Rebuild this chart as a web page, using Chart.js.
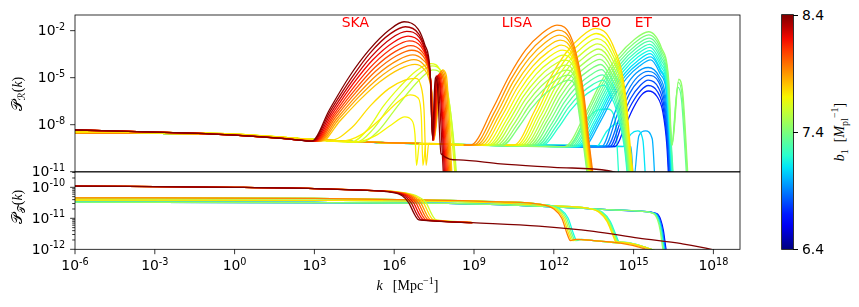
<!DOCTYPE html>
<html>
<head>
<meta charset="utf-8">
<script src="https://cdn.jsdelivr.net/npm/chart.js@4.4.1/dist/chart.umd.min.js"></script>
<style>
  body { margin: 0; background: #fff; }
  #wrap { position: relative; width: 859px; height: 307px; overflow: hidden; background: #fff; }
  #wrap canvas { position: absolute; left: 0; }
  #cTop { top: 0; }
  #cBot { top: 160px; }
  #cbar { position: absolute; left: 781.7px; top: 15px; width: 11.6px; height: 234.3px; box-shadow: 0 0 0 0.8px #000; }
  .cbt { position: absolute; left: 793.3px; width: 4.9px; height: 0.8px; background: #000; }
  .cbl { position: absolute; left: 802px; font: 13.9px "DejaVu Sans"; line-height: 16px; transform: translateY(-50%); }
  #cblab { position: absolute; left: 840px; top: 132px; transform: translate(-50%, -50%) rotate(-90deg);
           font: 14px "Liberation Serif"; white-space: nowrap; }
  #cblab sub, #cblab sup { font-size: 10px; line-height: 0; }
</style>
</head>
<body>
<div id="wrap">
  <canvas id="cTop" width="760" height="190"></canvas>
  <canvas id="cBot" width="760" height="147"></canvas>
  <div id="cbar"></div>
  <div id="cblab"><i>b</i><sub>1</sub>&nbsp;&nbsp;[<i>M</i><sub>pl</sub><sup>&minus;1</sup>]</div>
</div>
<script>
// axes (log10 exponents)
const kTicks = [-6, -3, 0, 3, 6, 9, 12, 15, 18];
const pTopTicks = [-11, -8, -5, -2];
const pBotTicks = [-12, -11, -10];
const cbTicks = [6.4, 7.4, 8.4];
const gwNames = ['SKA', 'LISA', 'BBO', 'ET'];
const gwK = [1.07e4, 1.1e10, 1.1e13, 1.1e15];
const gwP = 1.7e-2;

// large-scale plateau shared by the curves, [log10 k, log10 P]
const baseRed = [[-6, -8.34], [-2, -8.52], [0, -8.66], [2, -8.9]];
const baseWarm = [[-6, -8.45], [0, -8.6], [2, -8.82]];
const baseCool = [[-6, -8.52], [0, -8.64], [2, -8.85], [4, -9.05], [8, -9.25]];

// scalar spectrum, SKA peaks
const skaB1 = [8.4, 8.33, 8.27, 8.2, 8.13, 8.07, 8.0, 7.93, 7.87, 7.8];
const skaCurves = [
  [[2.9,-9.05],[3.56,-7.06],[4.31,-4.94],[5.06,-3.23],[5.81,-1.96],[6.37,-1.43],[6.9,-1.9],[7.15,-2.9],[7.35,-4.6],[7.44,-8.8],[7.54,-5.0],[7.62,-5.4],[7.76,-9.85],[8.43,-10.25],[10,-10.5],[12,-10.72],[14.06,-10.94],[14.8,-11.3]],
  [[2.93,-9.05],[3.59,-7.15],[4.36,-5.11],[5.09,-3.43],[5.86,-2.19],[6.42,-1.75],[6.92,-2.2],[7.17,-3.2],[7.35,-4.8],[7.45,-9.0],[7.57,-4.9],[7.66,-5.4],[7.86,-11.5]],
  [[2.96,-9.05],[3.63,-7.23],[4.4,-5.27],[5.14,-3.66],[5.91,-2.47],[6.47,-2.05],[6.95,-2.45],[7.18,-3.4],[7.36,-5.0],[7.45,-9.0],[7.6,-4.9],[7.7,-5.3],[7.9,-11.5]],
  [[3.0,-9.05],[3.67,-7.31],[4.44,-5.43],[5.18,-3.89],[5.96,-2.75],[6.52,-2.35],[6.98,-2.75],[7.2,-3.6],[7.37,-5.2],[7.46,-9.0],[7.63,-4.85],[7.73,-5.3],[7.94,-11.5]],
  [[3.04,-9.05],[3.71,-7.39],[4.49,-5.59],[5.23,-4.12],[6.01,-3.03],[6.57,-2.65],[7.0,-3.0],[7.22,-3.8],[7.38,-5.4],[7.46,-9.0],[7.66,-4.8],[7.76,-5.2],[7.98,-11.5]],
  [[3.08,-9.05],[3.75,-7.46],[4.53,-5.76],[5.27,-4.35],[6.05,-3.32],[6.62,-2.95],[7.02,-3.3],[7.24,-4.0],[7.39,-5.6],[7.47,-9.0],[7.69,-4.75],[7.8,-5.2],[8.02,-11.5]],
  [[3.12,-9.05],[3.79,-7.54],[4.57,-5.92],[5.31,-4.58],[6.09,-3.6],[6.66,-3.25],[7.05,-3.55],[7.25,-4.2],[7.4,-5.8],[7.47,-9.0],[7.72,-4.7],[7.84,-5.1],[8.06,-11.5]],
  [[3.17,-9.05],[3.84,-7.62],[4.62,-6.08],[5.36,-4.81],[6.14,-3.88],[6.7,-3.55],[7.07,-3.85],[7.27,-4.4],[7.41,-6.0],[7.48,-9.0],[7.75,-4.6],[7.88,-5.0],[8.1,-11.5]],
  [[3.22,-9.05],[3.89,-7.7],[4.66,-6.24],[5.4,-5.05],[6.18,-4.16],[6.74,-3.85],[7.1,-4.15],[7.28,-4.7],[7.42,-6.2],[7.48,-9.0],[7.78,-4.55],[7.92,-4.9],[8.14,-11.5]],
  [[3.28,-9.05],[3.95,-7.78],[4.72,-6.4],[5.45,-5.28],[6.22,-4.44],[6.78,-4.15],[7.12,-4.45],[7.29,-5.0],[7.43,-6.4],[7.49,-9.0],[7.81,-4.5],[7.96,-4.85],[8.18,-11.5]]
];
const skaYB1 = [7.75, 7.72, 7.7];
const skaYCurves = [
  [[3.6,-9.0],[4.4,-8.2],[5.1,-6.8],[5.8,-5.7],[6.4,-5.15],[6.8,-5.05],[7.0,-5.5],[7.12,-7.0],[7.2,-10.6],[7.3,-9.2],[8.6,-9.3]],
  [[4.0,-9.05],[4.8,-8.6],[5.5,-7.6],[6.1,-6.6],[6.6,-6.1],[6.9,-6.3],[7.02,-7.5],[7.08,-10.6],[7.2,-9.2],[8.6,-9.3]],
  [[4.6,-9.1],[5.3,-8.7],[5.9,-8.0],[6.4,-7.5],[6.65,-7.7],[6.78,-8.6],[6.84,-10.6],[6.95,-9.2],[8.6,-9.3]]
];
const skaGB1 = [7.65, 7.6, 7.55];
const skaGCurves = [
  [[4.4,-9.1],[5.0,-8.3],[5.6,-6.8],[6.2,-5.6],[6.8,-4.6],[7.37,-4.1],[7.75,-4.6],[8.0,-6.2],[8.15,-8.5],[8.3,-11.5]],
  [[4.6,-9.1],[5.2,-8.3],[5.8,-6.9],[6.4,-5.7],[6.9,-4.8],[7.42,-4.25],[7.8,-4.7],[8.05,-6.3],[8.2,-8.6],[8.33,-11.5]],
  [[4.8,-9.1],[5.4,-8.4],[6.0,-7.1],[6.55,-5.9],[7.0,-5.05],[7.45,-4.5],[7.82,-4.9],[8.06,-6.5],[8.22,-8.7],[8.36,-11.5]]
];

// scalar spectrum, LISA peaks
const lisaB1 = [7.95, 7.9, 7.85, 7.8, 7.75, 7.7, 7.65, 7.6, 7.55, 7.5, 7.45, 7.4];
const lisaCurves = [
  [[8.87,-9.3],[9.68,-7.06],[10.31,-4.94],[10.94,-3.23],[11.56,-2.17],[12.12,-1.64],[12.69,-2.6],[13.12,-5.98],[13.35,-9.5],[13.5,-11.5]],
  [[8.98,-9.3],[9.78,-7.17],[10.38,-5.12],[11.02,-3.5],[11.62,-2.47],[12.16,-1.96],[12.7,-2.9],[13.1,-6.0],[13.33,-9.5],[13.48,-11.5]],
  [[9.09,-9.3],[9.87,-7.26],[10.46,-5.3],[11.08,-3.75],[11.67,-2.77],[12.2,-2.28],[12.72,-3.2],[13.08,-6.0],[13.31,-9.5],[13.46,-11.5]],
  [[9.2,-9.3],[9.96,-7.36],[10.54,-5.48],[11.15,-4.01],[11.72,-3.07],[12.24,-2.6],[12.74,-3.5],[13.06,-6.0],[13.29,-9.5],[13.44,-11.5]],
  [[9.31,-9.3],[10.05,-7.45],[10.62,-5.66],[11.21,-4.26],[11.78,-3.37],[12.28,-2.92],[12.76,-3.8],[13.04,-6.0],[13.27,-9.5],[13.42,-11.5]],
  [[9.42,-9.3],[10.15,-7.54],[10.7,-5.85],[11.28,-4.51],[11.83,-3.66],[12.32,-3.24],[12.78,-4.1],[13.02,-6.1],[13.25,-9.5],[13.4,-11.5]],
  [[9.53,-9.3],[10.24,-7.64],[10.78,-6.03],[11.34,-4.77],[11.88,-3.96],[12.36,-3.56],[12.8,-4.4],[13.0,-6.2],[13.23,-9.5],[13.38,-11.5]],
  [[9.64,-9.3],[10.33,-7.73],[10.85,-6.21],[11.41,-5.02],[11.93,-4.26],[12.4,-3.88],[12.8,-4.6],[12.98,-6.3],[13.21,-9.5],[13.36,-11.5]],
  [[9.75,-9.3],[10.42,-7.82],[10.93,-6.39],[11.47,-5.27],[11.98,-4.56],[12.44,-4.2],[12.8,-4.9],[12.96,-6.4],[13.19,-9.5],[13.34,-11.5]],
  [[9.86,-9.3],[10.52,-7.91],[11.01,-6.58],[11.54,-5.52],[12.03,-4.85],[12.48,-4.52],[12.8,-5.1],[12.94,-6.5],[13.17,-9.5],[13.32,-11.5]],
  [[9.97,-9.3],[10.61,-8.01],[11.09,-6.76],[11.6,-5.78],[12.09,-5.15],[12.52,-4.84],[12.8,-5.3],[12.92,-6.6],[13.15,-9.5],[13.3,-11.5]],
  [[10.08,-9.3],[10.7,-8.1],[11.17,-6.94],[11.67,-6.03],[12.14,-5.45],[12.56,-5.16],[12.8,-5.5],[12.9,-6.7],[13.13,-9.5],[13.28,-11.5]]
];

// scalar spectrum, BBO peaks
const bboB1 = [7.75, 7.7, 7.65, 7.6, 7.55, 7.5, 7.45, 7.4, 7.35, 7.3, 7.25, 7.2];
const bboCurves = [
  [[10.5,-9.3],[11.27,-7.14],[11.85,-5.06],[12.46,-3.41],[13.04,-2.37],[13.56,-1.85],[14.19,-2.81],[14.69,-6.0],[14.88,-9.5],[15.0,-11.5]],
  [[10.6,-9.3],[11.35,-7.24],[11.92,-5.24],[12.51,-3.68],[13.08,-2.68],[13.59,-2.18],[14.18,-3.1],[14.66,-6.0],[14.86,-9.5],[14.98,-11.5]],
  [[10.7,-9.3],[11.43,-7.33],[11.98,-5.43],[12.57,-3.94],[13.12,-2.99],[13.62,-2.51],[14.17,-3.4],[14.63,-6.0],[14.84,-9.5],[14.96,-11.5]],
  [[10.8,-9.3],[11.51,-7.43],[12.05,-5.62],[12.62,-4.2],[13.17,-3.29],[13.65,-2.84],[14.16,-3.7],[14.6,-6.0],[14.82,-9.5],[14.94,-11.5]],
  [[10.9,-9.3],[11.6,-7.52],[12.12,-5.81],[12.68,-4.46],[13.21,-3.6],[13.68,-3.17],[14.15,-4.0],[14.57,-6.1],[14.8,-9.5],[14.92,-11.5]],
  [[11.0,-9.3],[11.68,-7.62],[12.19,-5.99],[12.73,-4.72],[13.25,-3.91],[13.71,-3.5],[14.14,-4.3],[14.54,-6.2],[14.78,-9.5],[14.9,-11.5]],
  [[11.1,-9.3],[11.76,-7.71],[12.26,-6.18],[12.79,-4.98],[13.29,-4.21],[13.74,-3.83],[14.13,-4.6],[14.51,-6.3],[14.76,-9.5],[14.88,-11.5]],
  [[11.2,-9.3],[11.84,-7.81],[12.33,-6.37],[12.84,-5.24],[13.33,-4.52],[13.77,-4.16],[14.12,-4.9],[14.48,-6.4],[14.74,-9.5],[14.86,-11.5]],
  [[11.3,-9.3],[11.93,-7.91],[12.4,-6.56],[12.9,-5.5],[13.38,-4.83],[13.8,-4.49],[14.11,-5.2],[14.45,-6.6],[14.72,-9.5],[14.84,-11.5]],
  [[11.4,-9.3],[12.01,-8.0],[12.47,-6.75],[12.96,-5.76],[13.42,-5.13],[13.83,-4.82],[14.1,-5.4],[14.42,-6.8],[14.7,-9.5],[14.82,-11.5]],
  [[11.5,-9.3],[12.09,-8.1],[12.54,-6.93],[13.01,-6.02],[13.46,-5.44],[13.86,-5.15],[14.1,-5.7],[14.4,-7.0],[14.68,-9.5],[14.8,-11.5]],
  [[11.6,-9.3],[12.17,-8.19],[12.61,-7.12],[13.07,-6.28],[13.5,-5.75],[13.89,-5.48],[14.1,-6.0],[14.38,-7.2],[14.66,-9.5],[14.78,-11.5]]
];

// scalar spectrum, ET peaks
const etB1 = [7.45, 7.4, 7.35, 7.3, 7.25, 7.2, 7.15, 7.1, 7.05, 7.0];
const etCurves = [
  [[12.4,-9.4],[13.19,-7.27],[13.79,-5.22],[14.42,-3.61],[15.02,-2.58],[15.56,-2.07],[16.05,-3.1],[16.31,-4.94],[16.45,-9.3],[16.7,-5.1],[16.85,-6.0],[17.05,-11.5]],
  [[12.48,-9.4],[13.25,-7.33],[13.84,-5.34],[14.46,-3.77],[15.04,-2.77],[15.57,-2.27],[16.05,-3.3],[16.3,-5.0],[16.44,-9.3],[16.68,-5.3],[16.83,-6.2],[17.03,-11.5]],
  [[12.56,-9.4],[13.32,-7.39],[13.89,-5.45],[14.49,-3.93],[15.07,-2.96],[15.58,-2.47],[16.05,-3.5],[16.29,-5.1],[16.43,-9.3],[16.66,-5.6],[16.8,-6.4],[17.0,-11.5]],
  [[12.64,-9.4],[13.38,-7.45],[13.94,-5.56],[14.53,-4.08],[15.09,-3.14],[15.59,-2.67],[16.04,-3.7],[16.28,-5.2],[16.42,-9.3],[16.5,-11.5]],
  [[12.72,-9.4],[13.44,-7.51],[13.99,-5.68],[14.56,-4.24],[15.11,-3.33],[15.6,-2.87],[16.04,-3.9],[16.27,-5.3],[16.41,-9.3],[16.48,-11.5]],
  [[12.8,-9.4],[13.5,-7.56],[14.04,-5.79],[14.6,-4.4],[15.13,-3.51],[15.61,-3.07],[16.03,-4.1],[16.26,-5.4],[16.4,-9.3],[16.47,-11.5]],
  [[12.88,-9.4],[13.57,-7.62],[14.09,-5.91],[14.63,-4.56],[15.15,-3.7],[15.62,-3.27],[16.03,-4.3],[16.25,-5.5],[16.39,-9.3],[16.46,-11.5]],
  [[12.96,-9.4],[13.63,-7.68],[14.13,-6.02],[14.67,-4.72],[15.18,-3.89],[15.63,-3.47],[16.02,-4.5],[16.24,-5.6],[16.38,-9.3],[16.45,-11.5]],
  [[13.04,-9.4],[13.69,-7.74],[14.18,-6.13],[14.7,-4.87],[15.2,-4.07],[15.64,-3.67],[16.02,-4.6],[16.23,-5.7],[16.37,-9.3],[16.44,-11.5]],
  [[13.12,-9.4],[13.75,-7.8],[14.23,-6.25],[14.74,-5.03],[15.22,-4.26],[15.65,-3.87],[16.01,-4.8],[16.22,-5.8],[16.36,-9.3],[16.43,-11.5]]
];
const etBlueB1 = [6.95, 6.9, 6.85, 6.8, 6.75, 6.7];
const etBlueCurves = [
  [[13.8,-9.4],[14.3,-7.2],[14.7,-5.6],[15.1,-4.7],[15.55,-4.35],[15.95,-4.9],[16.2,-6.2],[16.35,-9.3],[16.42,-11.5]],
  [[13.9,-9.4],[14.4,-7.3],[14.8,-5.8],[15.15,-4.95],[15.55,-4.6],[15.95,-5.1],[16.18,-6.4],[16.33,-9.3],[16.4,-11.5]],
  [[14.0,-9.4],[14.5,-7.4],[14.85,-6.0],[15.2,-5.2],[15.55,-4.85],[15.95,-5.3],[16.16,-6.6],[16.31,-9.3],[16.38,-11.5]],
  [[14.1,-9.4],[14.55,-7.6],[14.9,-6.3],[15.25,-5.5],[15.55,-5.15],[15.92,-5.6],[16.14,-6.8],[16.29,-9.3],[16.36,-11.5]],
  [[14.2,-9.4],[14.6,-7.8],[14.95,-6.6],[15.28,-5.8],[15.55,-5.5],[15.9,-5.9],[16.12,-7.0],[16.27,-9.3],[16.34,-11.5]],
  [[14.3,-9.4],[14.7,-8.0],[15.0,-6.9],[15.3,-6.1],[15.55,-5.85],[15.88,-6.2],[16.1,-7.2],[16.25,-9.3],[16.32,-11.5]]
];
const scatB1 = [7.2, 7.15, 7.1, 7.0];
const scatCurves = [
  [[12.6,-9.3],[13.1,-8.0],[13.6,-7.1],[14.0,-7.0],[14.3,-7.6],[14.45,-11.5]],
  [[13.6,-9.4],[14.0,-8.4],[14.4,-7.9],[14.75,-8.2],[14.9,-11.5]],
  [[14.6,-9.4],[14.9,-8.6],[15.15,-8.4],[15.35,-9.0],[15.45,-11.5]],
  [[14.9,-9.4],[15.0,-11.5],[15.2,-8.7],[15.45,-8.4],[15.7,-8.9],[15.8,-11.5]]
];

// tensor spectrum
const tBaseRed = [[-6,-9.96],[0,-10.0],[3,-10.04],[5,-10.1]];
const tSkaB1 = [8.4, 8.3, 8.2, 8.1, 8.0, 7.9, 7.75, 7.6];
const tSkaCurves = [
  [[5.8,-10.15],[6.3,-10.27],[6.55,-10.5],[6.75,-10.85],[6.9,-11.04],[7.0,-11.06],[8.94,-11.14],[11.44,-11.25],[13.5,-11.42],[15.19,-11.64],[16.8,-11.82],[17.92,-12.0],[18.3,-12.1]],
  [[5.85,-10.15],[6.37,-10.27],[6.64,-10.5],[6.84,-10.85],[6.99,-11.04],[7.09,-11.06],[8.94,-11.14]],
  [[5.89,-10.15],[6.44,-10.27],[6.73,-10.5],[6.93,-10.85],[7.08,-11.04],[7.18,-11.06],[8.94,-11.14]],
  [[5.94,-10.15],[6.52,-10.27],[6.82,-10.5],[7.02,-10.85],[7.17,-11.04],[7.27,-11.06],[8.94,-11.14]],
  [[5.98,-10.15],[6.59,-10.27],[6.91,-10.5],[7.11,-10.85],[7.26,-11.04],[7.36,-11.06],[8.94,-11.14]],
  [[6.03,-10.15],[6.66,-10.27],[7.0,-10.5],[7.2,-10.85],[7.35,-11.04],[7.45,-11.06],[8.94,-11.14]],
  [[6.08,-10.15],[6.74,-10.27],[7.1,-10.5],[7.3,-10.85],[7.45,-11.04],[7.55,-11.06],[8.94,-11.14]],
  [[6.13,-10.15],[6.82,-10.27],[7.2,-10.5],[7.4,-10.85],[7.55,-11.04],[7.65,-11.06],[8.94,-11.14]]
];
const tLisaBase = [[-6,-10.34],[3,-10.36],[8,-10.42],[10,-10.47],[11.5,-10.55]];
const tLisaB1 = [7.95, 7.75, 7.55, 7.35, 7.15];
const tLisaCurves = [
  [[12.0,-10.7],[12.3,-11.0],[12.5,-11.5],[12.62,-11.72],[12.8,-11.68],[13.5,-11.72],[14.5,-11.8],[15.3,-11.95],[15.8,-12.1]],
  [[12.06,-10.7],[12.36,-11.0],[12.56,-11.5],[12.68,-11.72],[12.86,-11.68],[13.5,-11.72],[14.5,-11.8]],
  [[12.12,-10.7],[12.42,-11.0],[12.62,-11.5],[12.74,-11.72],[12.92,-11.68],[13.5,-11.72],[14.5,-11.8]],
  [[12.18,-10.7],[12.48,-11.0],[12.68,-11.5],[12.8,-11.72],[12.98,-11.68],[13.5,-11.72],[14.5,-11.8]],
  [[12.24,-10.7],[12.54,-11.0],[12.74,-11.5],[12.86,-11.72],[13.04,-11.68],[13.5,-11.72],[14.5,-11.8]]
];
const tBboBase = [[-6,-10.41],[3,-10.42],[8,-10.45],[10,-10.5],[12,-10.6],[13.3,-10.68]];
const tBboB1 = [7.75, 7.6, 7.45, 7.3, 7.15];
const tBboCurves = [
  [[13.7,-10.8],[14.0,-11.1],[14.2,-11.5],[14.33,-11.75],[14.6,-11.78],[15.5,-11.95],[16,-12.1]],
  [[13.73,-10.8],[14.03,-11.1],[14.23,-11.5],[14.36,-11.75],[14.63,-11.78],[15.5,-11.95],[16,-12.1]],
  [[13.76,-10.8],[14.06,-11.1],[14.26,-11.5],[14.39,-11.75],[14.66,-11.78],[15.5,-11.95],[16,-12.1]],
  [[13.79,-10.8],[14.09,-11.1],[14.29,-11.5],[14.42,-11.75],[14.69,-11.78],[15.5,-11.95],[16,-12.1]],
  [[13.82,-10.8],[14.12,-11.1],[14.32,-11.5],[14.45,-11.75],[14.72,-11.78],[15.5,-11.95],[16,-12.1]]
];
const tEtBase = [[-6,-10.48],[3,-10.49],[8,-10.52],[10,-10.56],[12,-10.63],[14,-10.72],[15.24,-10.77]];
const tEtB1 = [7.45, 7.25, 7.05, 6.85, 6.65];
const tEtCurves = [
  [[15.75,-10.85],[15.9,-11.05],[16.0,-11.4],[16.1,-12.0],[16.15,-12.2]],
  [[15.78,-10.85],[15.93,-11.05],[16.03,-11.4],[16.13,-12.0],[16.18,-12.2]],
  [[15.81,-10.85],[15.96,-11.05],[16.06,-11.4],[16.16,-12.0],[16.21,-12.2]],
  [[15.84,-10.85],[15.99,-11.05],[16.09,-11.4],[16.19,-12.0],[16.24,-12.2]],
  [[15.87,-10.85],[16.02,-11.05],[16.12,-11.4],[16.22,-12.0],[16.27,-12.2]]
];

// jet colour map
const JR = [[0,0],[0.35,0],[0.66,1],[0.89,1],[1,0.5]];
const JG = [[0,0],[0.125,0],[0.375,1],[0.64,1],[0.91,0],[1,0]];
const JB = [[0,0.5],[0.11,1],[0.34,1],[0.65,0],[1,0]];
function seg(t, pts) {
  for (let i = 1; i < pts.length; i++) {
    if (t <= pts[i][0]) {
      const [x0, y0] = pts[i - 1], [x1, y1] = pts[i];
      return y0 + (y1 - y0) * (t - x0) / (x1 - x0);
    }
  }
  return pts[pts.length - 1][1];
}
function jet(t) {
  t = Math.max(0, Math.min(1, t));
  return `rgb(${Math.round(255 * seg(t, JR))},${Math.round(255 * seg(t, JG))},${Math.round(255 * seg(t, JB))})`;
}
const b1Color = b => jet((b - 6.4) / 2);

const toPts = arr => arr.map(([a, b]) => ({ x: Math.pow(10, a), y: Math.pow(10, b) }));
function curve(pts, b1) {
  return {
    data: toPts(pts), borderColor: b1Color(b1), borderWidth: 1.3, pointRadius: 0,
    cubicInterpolationMode: 'monotone', fill: false
  };
}

const topSets = [];
skaCurves.forEach((c, i) => topSets.push(curve(baseRed.concat(c), skaB1[i])));
skaYCurves.forEach((c, i) => topSets.push(curve(baseWarm.concat(c), skaYB1[i])));
skaGCurves.forEach((c, i) => topSets.push(curve(baseWarm.concat(c), skaGB1[i])));
lisaCurves.forEach((c, i) => topSets.push(curve(baseCool.concat(c), lisaB1[i])));
bboCurves.forEach((c, i) => topSets.push(curve(baseCool.concat(c), bboB1[i])));
etCurves.forEach((c, i) => topSets.push(curve(baseCool.concat(c), etB1[i])));
etBlueCurves.forEach((c, i) => topSets.push(curve(baseCool.concat(c), etBlueB1[i])));
scatCurves.forEach((c, i) => topSets.push(curve(baseCool.concat(c), scatB1[i])));

const botSets = [];
tSkaCurves.forEach((c, i) => botSets.push(curve(tBaseRed.concat(c), tSkaB1[i])));
tLisaCurves.forEach((c, i) => botSets.push(curve(tLisaBase.concat(c), tLisaB1[i])));
tBboCurves.forEach((c, i) => botSets.push(curve(tBboBase.concat(c), tBboB1[i])));
tEtCurves.forEach((c, i) => botSets.push(curve(tEtBase.concat(c), tEtB1[i])));

// text helpers
const SANS = '"DejaVu Sans"';
const SERIF = '"Liberation Serif"';
function supLabel(ctx, e, x, y, align) {
  const sup = e < 0 ? '-' + (-e) : String(e);
  ctx.font = '13.9px ' + SANS;
  const w1 = ctx.measureText('10').width;
  ctx.font = '9.7px ' + SANS;
  const w2 = ctx.measureText(sup).width;
  const x0 = align === 'right' ? x - w1 - w2 : x - (w1 + w2) / 2;
  ctx.textAlign = 'left';
  ctx.textBaseline = 'alphabetic';
  ctx.fillStyle = '#000';
  ctx.font = '13.9px ' + SANS;
  ctx.fillText('10', x0, y);
  ctx.font = '9.7px ' + SANS;
  ctx.fillText(sup, x0 + w1, y - 5.5);
}
function rich(ctx, parts, cx, cy, rot) {
  ctx.save();
  ctx.translate(cx, cy);
  ctx.rotate(rot || 0);
  let w = 0;
  parts.forEach(p => { ctx.font = p.f; p.w = ctx.measureText(p.t).width; w += p.w + (p.gap || 0); });
  let x = -w / 2;
  ctx.textAlign = 'left';
  ctx.textBaseline = 'alphabetic';
  ctx.fillStyle = '#000';
  parts.forEach(p => { ctx.font = p.f; ctx.fillText(p.t, x, 4.5 + (p.dy || 0)); x += p.w + (p.gap || 0); });
  ctx.restore();
}
function seg2(ctx, x0, y0, x1, y1) {
  ctx.beginPath(); ctx.moveTo(x0, y0); ctx.lineTo(x1, y1); ctx.stroke();
}

const axesDeco = {
  id: 'axesDeco',
  afterDraw(chart) {
    const o = chart.options.plugins.axesDeco;
    const { ctx, chartArea: a } = chart;
    const x = chart.scales.x, y = chart.scales.y;
    ctx.save();
    ctx.strokeStyle = '#000';
    ctx.lineWidth = 0.8;
    ctx.strokeRect(a.left, a.top, a.right - a.left, a.bottom - a.top);
    o.yTicks.forEach(e => {
      const py = y.getPixelForValue(Math.pow(10, e));
      seg2(ctx, a.left - 4.9, py, a.left, py);
      supLabel(ctx, e, a.left - 9.8, py + 4.4, 'right');
    });
    if (o.yMinor) {
      for (let e = -12; e <= -10; e++) {
        for (let m = 2; m <= 9; m++) {
          const v = m * Math.pow(10, e);
          if (v > y.max) continue;
          const py = y.getPixelForValue(v);
          seg2(ctx, a.left - 2.8, py, a.left, py);
        }
      }
    }
    if (o.xTicks) {
      kTicks.forEach(e => {
        const px = x.getPixelForValue(Math.pow(10, e));
        seg2(ctx, px, a.bottom, px, a.bottom + 4.9);
        supLabel(ctx, e, px, a.bottom + 20.7, 'center');
      });
      rich(ctx, [
        { t: 'k', f: 'italic 14px ' + SERIF, gap: 10 },
        { t: '[Mpc', f: '14px ' + SERIF },
        { t: '\u22121', f: '10px ' + SERIF, dy: -6 },
        { t: ']', f: '14px ' + SERIF }
      ], (a.left + a.right) / 2, a.bottom + 36.5, 0);
    }
    if (o.names) {
      ctx.fillStyle = '#ff0000';
      ctx.font = '13.9px ' + SANS;
      ctx.textAlign = 'left';
      ctx.textBaseline = 'alphabetic';
      gwNames.forEach((n, i) => ctx.fillText(n, x.getPixelForValue(gwK[i]), y.getPixelForValue(gwP)));
    }
    rich(ctx, [
      { t: '\u{1D4AB}', f: '15px ' + SANS },
      { t: o.sub, f: '10px ' + SANS, dy: 3 },
      { t: '(', f: '14px ' + SERIF },
      { t: 'k', f: 'italic 14px ' + SERIF },
      { t: ')', f: '14px ' + SERIF }
    ], 17, o.labelY, -Math.PI / 2);
    ctx.restore();
  }
};

function makeChart(id, sets, yMin, yMax, pad, deco) {
  return new Chart(document.getElementById(id), {
    type: 'line',
    data: { datasets: sets },
    options: {
      responsive: false,
      animation: false,
      devicePixelRatio: 1,
      layout: { padding: pad },
      scales: {
        x: { type: 'logarithmic', min: 1e-6, max: 1e19, display: false },
        y: { type: 'logarithmic', min: yMin, max: yMax, display: false }
      },
      plugins: { legend: { display: false }, tooltip: { enabled: false }, axesDeco: deco }
    },
    plugins: [axesDeco]
  });
}

makeChart('cTop', topSets, 1e-11, 1e-1, { left: 75, top: 15, right: 20, bottom: 18.3 },
  { yTicks: pTopTicks, names: true, sub: '\u211B', labelY: 94 });
makeChart('cBot', botSets, 1e-12, 3.12e-10, { left: 75, top: 12, right: 20, bottom: 57.7 },
  { yTicks: pBotTicks, yMinor: true, xTicks: true, sub: '\u{1D4AF}', labelY: 47 });

// colour bar
const bar = document.getElementById('cbar');
const stops = [];
for (let i = 0; i <= 20; i++) stops.push(jet(i / 20) + ' ' + (i * 5) + '%');
bar.style.background = 'linear-gradient(to top, ' + stops.join(', ') + ')';
const wrap = document.getElementById('wrap');
cbTicks.forEach(v => {
  const py = 249.3 - (v - 6.4) / 2 * 234.3;
  const t = document.createElement('div');
  t.className = 'cbt';
  t.style.top = (py - 0.4) + 'px';
  wrap.appendChild(t);
  const l = document.createElement('div');
  l.className = 'cbl';
  l.style.top = py + 'px';
  l.textContent = v.toFixed(1);
  wrap.appendChild(l);
});
</script>
</body>
</html>
